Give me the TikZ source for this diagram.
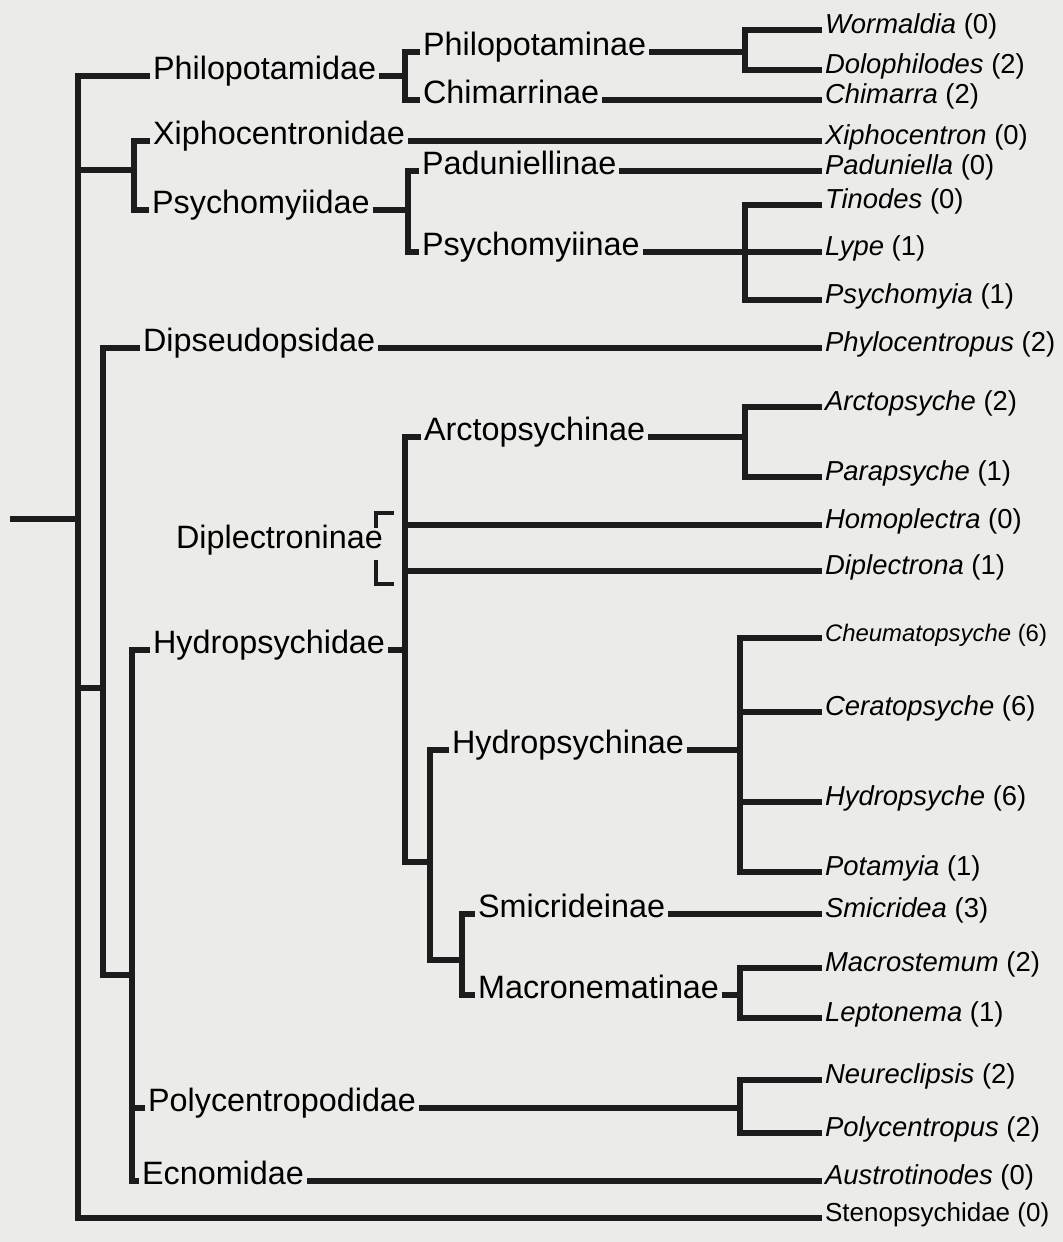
\documentclass[tikz,border=0pt]{standalone}
\usepackage{fontspec}
\setmainfont{Liberation Sans}
\usepackage{tikz}
\usetikzlibrary{calc,positioning}

\begin{document}
\begin{tikzpicture}[x=0.025cm, y=-0.025cm,
    famille/.style={anchor=mid west, inner sep=2pt, font=\fontsize{23}{27}\selectfont},
    taxon/.style={anchor=mid west, inner sep=2pt, font=\fontsize{19.5}{23}\selectfont},
    branche/.style={draw=trait, line width=3.6pt, line join=miter}]
    % Couleurs
    \definecolor{fond}{RGB}{235,235,233}
    \definecolor{trait}{RGB}{28,28,28}

    % Cadre de la figure
    \useasboundingbox (0,0) rectangle (1063,1242);
    \fill[fond] (0,0) rectangle (1063,1242);

    % Abscisse des genres
    \def\xg{822}

    % Genres (colonne de droite)
    \foreach \nom/\py/\genre/\nb in {worm/30/Wormaldia/0, dolo/70/Dolophilodes/2,
        chima/100/Chimarra/2, xiphc/141/Xiphocentron/0, padu/171/Paduniella/0,
        tino/205/Tinodes/0, lype/252/Lype/1, psyc/300/Psychomyia/1,
        phylo/348/Phylocentropus/2, arcto/407/Arctopsyche/2, parap/477/Parapsyche/1,
        homo/525/Homoplectra/0, diplc/571/Diplectrona/1, cera/712/Ceratopsyche/6,
        hydro/802/Hydropsyche/6, pota/872/Potamyia/1, smic/914/Smicridea/3,
        macro/968/Macrostemum/2, lepto/1018/Leptonema/1, neur/1080/Neureclipsis/2,
        polyce/1133/Polycentropus/2, austr/1181/Austrotinodes/0}
        \node[taxon] (\nom) at (\xg,\py) {\textit{\genre} (\nb)};
    \node[taxon, font=\fontsize{17}{20}\selectfont] (cheu) at (\xg,638) {\textit{Cheumatopsyche} (6)};
    \node[taxon, font=\fontsize{18.5}{22}\selectfont] (steno) at (\xg,1218) {Stenopsychidae (0)};

    % Familles et sous-familles
    \foreach \nom/\px/\py/\txt in {philo/150/76/Philopotamidae, philnae/420/52/Philopotaminae,
        chimnae/420/100/Chimarrinae, xipho/150/141/Xiphocentronidae,
        psychid/149/210/Psychomyiidae, padnae/419/171/Paduniellinae,
        psynae/419/252/Psychomyiinae, dipseud/140/348/Dipseudopsidae,
        arcnae/421/437/Arctopsychinae, diplnae/173/545/Diplectroninae,
        hydrid/150/650/Hydropsychidae, hydnae/449/750/Hydropsychinae,
        smicnae/475/914/Smicrideinae, macnae/475/995/Macronematinae,
        polyc/145/1108/Polycentropodidae, ecnom/139/1181/Ecnomidae}
        \node[famille] (\nom) at (\px,\py) {\txt};

    % Noeuds internes
    \coordinate (racine) at (10,519);
    \coordinate (bR) at (78,519);
    \coordinate (bXP) at (134,170);
    \coordinate (jD) at (103,688);
    \coordinate (bD) at (103,975);
    \coordinate (bE) at (132,975);
    \coordinate (bH) at (405,862);
    \coordinate (bHS) at (430,862);
    \coordinate (bSM) at (462,960);
    \coordinate (bPhilo) at (405,0);
    \coordinate (bPsy) at (408,0);
    \coordinate (bG) at (745,0);
    \coordinate (bG2) at (740,0);

    % Tronc et grandes branches
    \draw[branche] (racine) -- (bR);
    \draw[branche] (philo.mid west) -| (bR |- steno.mid west) -- (steno.mid west);
    \draw[branche] (bR |- bXP) -- (bXP);
    \draw[branche] (xipho.mid west) -| (bXP |- psychid.mid west) -- (psychid.mid west);
    \draw[branche] (bR |- jD) -- (jD);
    \draw[branche] (dipseud.mid west) -| (bD) -- (bE);
    \draw[branche] (hydrid.mid west) -| (bE |- ecnom.mid west) -- (ecnom.mid west);
    \draw[branche] (bE |- polyc.mid west) -- (polyc.mid west);

    % Philopotamidae
    \draw[branche] (philo.mid east) -- (philo.mid east -| bPhilo);
    \draw[branche] (philnae.mid west) -| (bPhilo |- chimnae.mid west) -- (chimnae.mid west);
    \draw[branche] (philnae.mid east) -- (philnae.mid east -| bG);
    \draw[branche] (worm.mid west) -| (bG |- dolo.mid west) -- (dolo.mid west);
    \draw[branche] (chimnae.mid east) -- (chima.mid west);

    % Xiphocentronidae, Psychomyiidae
    \draw[branche] (xipho.mid east) -- (xiphc.mid west);
    \draw[branche] (psychid.mid east) -- (psychid.mid east -| bPsy);
    \draw[branche] (padnae.mid west) -| (bPsy |- psynae.mid west) -- (psynae.mid west);
    \draw[branche] (padnae.mid east) -- (padu.mid west);
    \draw[branche] (psynae.mid east) -- (lype.mid west);
    \draw[branche] (tino.mid west) -| (bG |- psyc.mid west) -- (psyc.mid west);

    % Dipseudopsidae
    \draw[branche] (dipseud.mid east) -- (phylo.mid west);

    % Hydropsychidae
    \draw[branche] (hydrid.mid east) -- (hydrid.mid east -| bH);
    \draw[branche] (arcnae.mid west) -| (bH) -- (bHS);
    \draw[branche] (bH |- homo.mid west) -- (homo.mid west);
    \draw[branche] (bH |- diplc.mid west) -- (diplc.mid west);
    \draw[branche] (arcnae.mid east) -- (arcnae.mid east -| bG);
    \draw[branche] (arcto.mid west) -| (bG |- parap.mid west) -- (parap.mid west);
    \draw[branche] (hydnae.mid west) -| (bHS |- bSM) -- (bSM);
    \draw[branche] (hydnae.mid east) -- (hydnae.mid east -| bG2);
    \draw[branche] (cheu.mid west) -| (bG2 |- pota.mid west) -- (pota.mid west);
    \foreach \nom in {cera,hydro}
        \draw[branche] (bG2 |- \nom.mid west) -- (\nom.mid west);
    \draw[branche] (smicnae.mid west) -| (bSM |- macnae.mid west) -- (macnae.mid west);
    \draw[branche] (smicnae.mid east) -- (smic.mid west);
    \draw[branche] (macnae.mid east) -- (macnae.mid east -| bG2);
    \draw[branche] (macro.mid west) -| (bG2 |- lepto.mid west) -- (lepto.mid west);

    % Crochet Diplectroninae
    \draw[branche, line width=3pt] (394,513) -- (376,513) -- (376,528);
    \draw[branche, line width=3pt] (376,560) -- (376,584) -- (394,584);

    % Polycentropodidae, Ecnomidae
    \draw[branche] (polyc.mid east) -- (polyc.mid east -| bG2);
    \draw[branche] (neur.mid west) -| (bG2 |- polyce.mid west) -- (polyce.mid west);
    \draw[branche] (ecnom.mid east) -- (austr.mid west);
\end{tikzpicture}
\end{document}
